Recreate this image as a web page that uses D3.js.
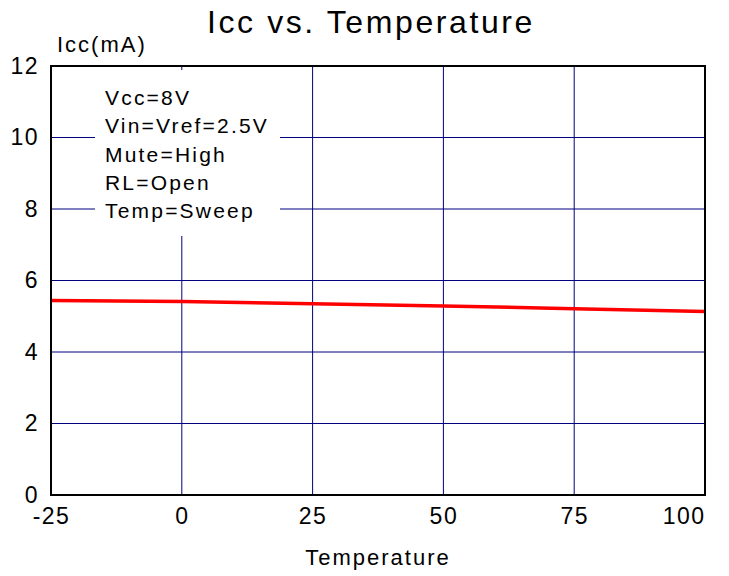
<!DOCTYPE html>
<html>
<head>
<meta charset="utf-8">
<script src="https://cdn.jsdelivr.net/npm/d3@7"></script>
<style>
  body { margin: 0; background: #fff; }
  text { font-family: "Liberation Sans", Arial, sans-serif; fill: #000; }
</style>
</head>
<body>
<script>
'use strict';

// data
const temps = [-25, 0, 25, 50, 75, 100];
const icc = [5.44, 5.41, 5.35, 5.29, 5.21, 5.13];
const xTicks = [-25, 0, 25, 50, 75, 100];
const yTicks = [0, 2, 4, 6, 8, 10, 12];
const notes = ["Vcc=8V", "Vin=Vref=2.5V", "Mute=High", "RL=Open", "Temp=Sweep"];

const width = 729, height = 576;
const margin = { left: 51, right: 24, top: 66, bottom: 81 };

const svg = d3.select('body').append('svg')
  .attr('width', width)
  .attr('height', height);

const x = d3.scaleLinear().domain([-25, 100]).range([margin.left, width - margin.right]);
const y = d3.scaleLinear().domain([0, 12]).range([height - margin.bottom, margin.top]);

// grid lines
svg.append('g').selectAll('line')
  .data(xTicks.slice(1, -1))
  .enter().append('line')
    .attr('x1', d => x(d)).attr('x2', d => x(d))
    .attr('y1', y(0)).attr('y2', y(12))
    .attr('stroke', '#000080').attr('stroke-width', 1);

svg.append('g').selectAll('line')
  .data(yTicks.slice(1, -1))
  .enter().append('line')
    .attr('x1', x(-25)).attr('x2', x(100))
    .attr('y1', d => y(d)).attr('y2', d => y(d))
    .attr('stroke', '#000080').attr('stroke-width', 1);

// the note box hides the grid behind it
svg.append('rect')
  .attr('x', 95).attr('y', 70)
  .attr('width', 185).attr('height', 166)
  .attr('fill', '#fff');

svg.append('g').selectAll('text')
  .data(notes)
  .enter().append('text')
    .attr('x', 105)
    .attr('y', (d, i) => 105 + i * 28.3)
    .style('font-size', '21px')
    .style('letter-spacing', '2.2px')
    .text(d => d);

// data line
const line = d3.line()
  .x((d, i) => x(temps[i]))
  .y(d => y(d));

svg.append('path')
  .datum(icc)
  .attr('d', line)
  .attr('fill', 'none')
  .attr('stroke', '#ff0000')
  .attr('stroke-width', 3.5);

// frame
svg.append('rect')
  .attr('x', x(-25)).attr('y', y(12))
  .attr('width', x(100) - x(-25)).attr('height', y(0) - y(12))
  .attr('fill', 'none')
  .attr('stroke', '#000')
  .attr('stroke-width', 2);

// axes (labels only)
const xAxis = d3.axisBottom(x).tickValues(xTicks).tickSize(0).tickPadding(13)
  .tickFormat(d => String(d));
svg.append('g')
  .attr('transform', `translate(0, ${y(0)})`)
  .call(xAxis)
  .call(g => g.select('.domain').remove())
  .selectAll('text')
    .style('font-size', '23px')
    .style('letter-spacing', '1.5px')
    .style('font-family', '"Liberation Sans", Arial, sans-serif')
    .attr('fill', '#000')
    // last label sits inside the frame's right edge
    .filter(d => d === xTicks[xTicks.length - 1])
    .attr('text-anchor', 'end');

const yAxis = d3.axisLeft(y).tickValues(yTicks).tickSize(0).tickPadding(12)
  .tickFormat(d => String(d));
svg.append('g')
  .attr('transform', `translate(${x(-25)}, 0)`)
  .call(yAxis)
  .call(g => g.select('.domain').remove())
  .selectAll('text')
    .style('font-size', '23px')
    .style('letter-spacing', '1.5px')
    .style('font-family', '"Liberation Sans", Arial, sans-serif')
    .attr('fill', '#000');

// titles
svg.append('text')
  .attr('x', 371).attr('y', 33)
  .attr('text-anchor', 'middle')
  .style('font-size', '32px')
  .style('letter-spacing', '2.6px')
  .text('Icc vs. Temperature');

svg.append('text')
  .attr('x', 57).attr('y', 52)
  .style('font-size', '22px')
  .style('letter-spacing', '2px')
  .text('Icc(mA)');

svg.append('text')
  .attr('x', 378).attr('y', 565)
  .attr('text-anchor', 'middle')
  .style('font-size', '22px')
  .style('letter-spacing', '2px')
  .text('Temperature');
</script>
</body>
</html>
